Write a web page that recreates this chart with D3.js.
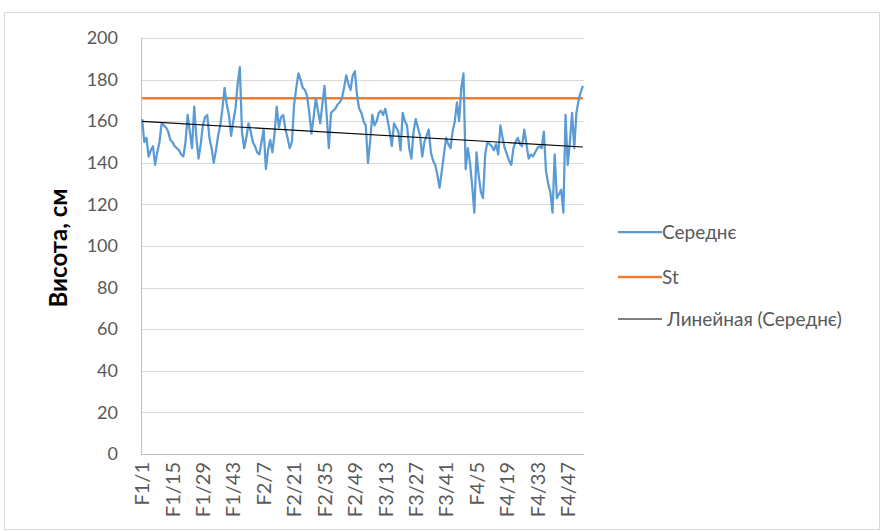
<!DOCTYPE html>
<html><head><meta charset="utf-8">
<script src="https://cdn.jsdelivr.net/npm/d3@7"></script>
<style>body{margin:0;background:#fff}svg{display:block}text{font-family:Lato,"Open Sans",sans-serif}</style>
</head><body>
<script>
const groups = ["F1","F2","F3","F4"];
const groupSizes = [50,50,50,54];
const serieName = "Середнє";
const stName = "St";
const trendName = "Линейная (Середнє)";
const yTicks = [0,20,40,60,80,100,120,140,160,180,200];
const stValue = 171;
const values = [
161,150,152,143,146,148,139,145,150,159,
158,157,155,151,150,148,147,146,144,143,
150,163,155,147,167,152,142,149,158,162,
163,152,147,140,146,153,158,166,176,168,
163,153,160,166,178,186,155,147,152,159,
155,150,148,145,144,150,156,137,146,151,
145,154,167,157,162,163,156,152,147,150,
168,176,183,180,176,175,172,164,154,162,
171,165,159,168,177,163,147,164,165,166,
168,169,171,176,182,178,175,182,184,172,
166,164,160,158,140,150,163,158,160,164,
165,163,166,161,155,148,159,157,155,146,
164,160,158,147,142,155,161,157,153,143,
150,153,156,145,141,139,134,128,136,144,
152,149,147,155,160,169,160,176,183,137,
147,140,129,116,145,134,126,123,144,150,
149,148,146,149,144,158,152,147,144,141,
139,147,150,152,149,148,156,149,142,144,
143,145,147,148,147,155,136,130,126,116,
144,123,125,127,116,163,139,150,164,147,
164,170,174,177];

const categories = [];
groups.forEach((g,gi)=>{for(let k=1;k<=groupSizes[gi];k++)categories.push(g+"/"+k);});
const labelStep = 14;

const W=881,H=531;
const svg=d3.select("body").append("svg").attr("width",W).attr("height",H);
svg.append("rect").attr("x",4.5).attr("y",12.5).attr("width",W-6).attr("height",H-14)
  .attr("fill","#fff").attr("stroke","#d9d9d9");

const m={l:141,r:584,t:38,b:454};
const x=d3.scaleBand().domain(categories).range([m.l,m.r]);
const y=d3.scaleLinear().domain([0,200]).range([m.b,m.t]);
const cx=c=>x(c)+x.bandwidth()/2;

// gridlines
svg.append("g").selectAll("line").data(yTicks).join("line")
  .attr("x1",m.l).attr("x2",m.r).attr("y1",d=>Math.round(y(d))+0.5).attr("y2",d=>Math.round(y(d))+0.5)
  .attr("stroke",d=>d===0?"#bfbfbf":"#d9d9d9").attr("stroke-width",1);
// y axis line
svg.append("line").attr("x1",m.l+0.5).attr("x2",m.l+0.5).attr("y1",m.t).attr("y2",m.b)
  .attr("stroke","#bfbfbf");

// y labels
const ya=d3.axisLeft(y).tickValues(yTicks).tickSize(0).tickPadding(23);
const yg=svg.append("g").attr("transform",`translate(${m.l},0)`).call(ya);
yg.select(".domain").remove();
yg.selectAll("text").attr("font-size",18).attr("fill","#595959").attr("font-family","Lato,sans-serif");

// x labels
const xa=d3.axisBottom(x).tickValues(categories.filter((c,i)=>i%labelStep===0)).tickSize(0).tickPadding(0);
const xg=svg.append("g").attr("transform",`translate(0,${m.b})`).call(xa);
xg.select(".domain").remove();
xg.selectAll("text").attr("font-size",20).attr("fill","#595959").attr("font-family","Lato,sans-serif")
  .attr("transform","rotate(-90)").attr("text-anchor","end").attr("dx","-8").attr("dy","0.36em").attr("x",0).attr("y",0);

// St line
svg.append("path").datum(categories).attr("fill","none").attr("stroke","#ed7d31").attr("stroke-width",2.6)
  .attr("d",d3.line().x(c=>cx(c)).y(()=>y(stValue)));

// data line
svg.append("path").datum(values).attr("fill","none").attr("stroke","#5b9bd5").attr("stroke-width",2.25)
  .attr("stroke-linejoin","round")
  .attr("d",d3.line().x((v,i)=>cx(categories[i])).y(v=>y(v)));

// linear trend (least squares)
const n=values.length, xs=d3.range(1,n+1);
const mx=d3.mean(xs), my=d3.mean(values);
const slope=d3.sum(xs,(xi,i)=>(xi-mx)*(values[i]-my))/d3.sum(xs,xi=>(xi-mx)**2);
const icpt=my-slope*mx;
svg.append("line").attr("x1",cx(categories[0])).attr("x2",cx(categories[n-1]))
  .attr("y1",y(icpt+slope*1)).attr("y2",y(icpt+slope*n)).attr("stroke","#000").attr("stroke-width",1.2);

// y title
svg.append("text").attr("transform","translate(67,248) rotate(-90)").attr("text-anchor","middle")
  .attr("font-size",24).attr("font-weight","bold").attr("fill","#000").text("Висота, см");

// legend
const leg=[{n:serieName,c:"#5b9bd5",w:2.25,y:232,tx:662},{n:stName,c:"#ed7d31",w:2.5,y:277,tx:662},{n:trendName,c:"#000",w:1,y:319,tx:667}];
const lg=svg.append("g");
leg.forEach(d=>{
  lg.append("line").attr("x1",618).attr("x2",662).attr("y1",d.y).attr("y2",d.y).attr("stroke",d.c).attr("stroke-width",d.w);
  lg.append("text").attr("x",d.tx).attr("y",d.y).attr("dy","0.35em").attr("font-size",19).attr("fill","#595959").text(d.n);
});
</script>
</body></html>
